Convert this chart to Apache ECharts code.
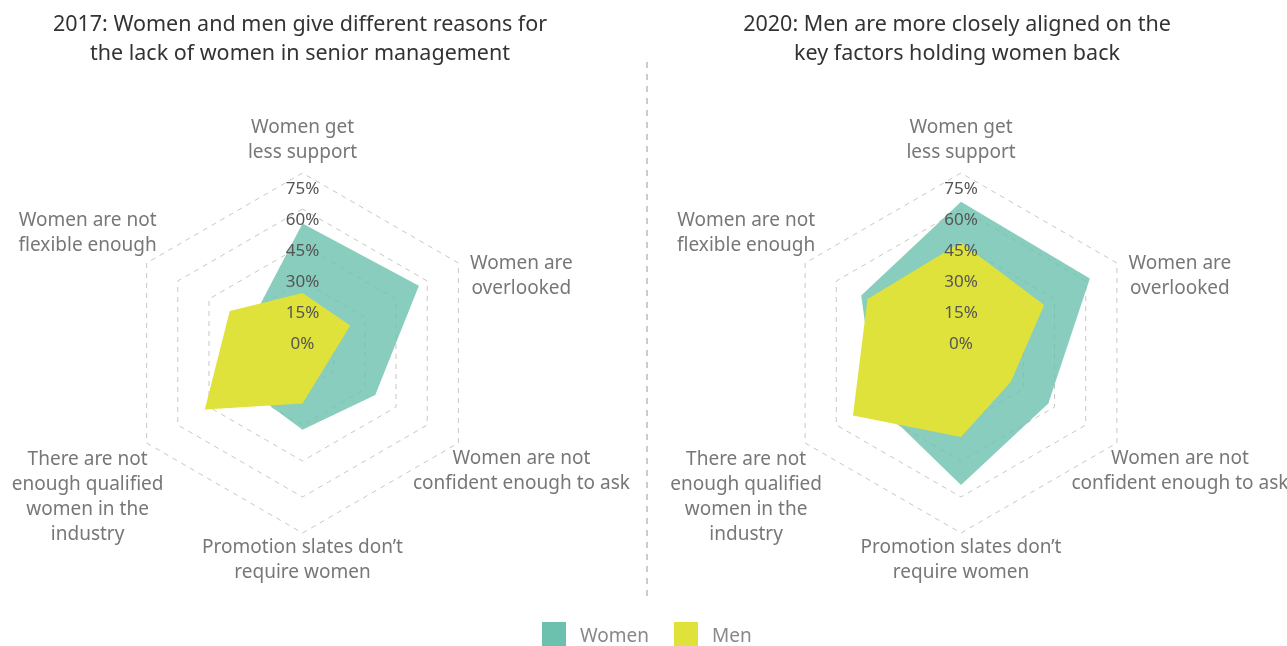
<!DOCTYPE html>
<html><head><meta charset="utf-8">
<script src="https://cdn.jsdelivr.net/npm/echarts@6/dist/echarts.min.js"></script>
<style>html,body{margin:0;padding:0;background:#fff}#c{width:1287px;height:646px}</style>
</head><body><div id="c"></div>
<script>
// ---- data ----
const categories = ['Women get\nless support', 'Women are not\nflexible enough', 'There are not\nenough qualified\nwomen in the\nindustry', 'Promotion slates don’t\nrequire women', 'Women are not\nconfident enough to ask', 'Women are\noverlooked'];
const titles = ['2017: Women and men give different reasons for\nthe lack of women in senior management', '2020: Men are more closely aligned on the\nkey factors holding women back'];
const seriesNames = ['Women', 'Men'];
const women2017 = [54, 25, 28, 32, 35, 56];
const men2017 = [25, 35, 47, 21, 11, 23];
const women2020 = [63, 48, 41, 55, 42, 62];
const men2020 = [46, 45, 52, 35, 24, 40];
const tickLabels = ['0%', '15%', '30%', '45%', '60%', '75%'];
const axisMax = 75;
const tickStep = 15;

// ---- style ----
const FONT = 'Noto Sans';
const TEAL = '#6cc1ae';
const YEL = '#dfe23b';
// offset (dx, dy) of each category label's centre from its axis end
const nameOffsets = [[0, -33], [-59, -29.5], [-59, 54], [0, 27.5], [63, 28], [63, 13.5]];

function nameLayout(i) {
  const th = (90 + i * 60) * Math.PI / 180;
  const c = Math.cos(th), s = Math.sin(th);
  const dx = nameOffsets[i][0], dy = nameOffsets[i][1];
  const g = dy / (-s);
  const r = dx - g * (Math.abs(c) < 1e-9 ? 0 : c);
  return { gap: g, padding: [0, Math.max(0, -2 * r), 0, Math.max(0, 2 * r)] };
}

function mainRadar(cx) {
  return {
    center: [cx, 353], radius: 180, startAngle: 90, shape: 'polygon', splitNumber: 5,
    indicator: categories.map((n, i) => {
      const L = nameLayout(i);
      return {
        name: n, min: 0, max: axisMax, nameGap: L.gap,
        nameTextStyle: { align: 'center', verticalAlign: 'middle', padding: L.padding }
      };
    }),
    axisName: { color: '#777', fontSize: 19, lineHeight: 25, fontFamily: FONT },
    nameGap: 0,
    axisLine: { show: false }, axisTick: { show: false }, axisLabel: { show: false },
    splitLine: { lineStyle: { color: '#c8c8c8', type: [5, 5], width: 1 } },
    splitArea: { show: false }
  };
}
function labelRadar(cx) {
  return {
    z: 10,
    center: [cx, 344], radius: 155, startAngle: 90, shape: 'polygon', splitNumber: 5,
    indicator: categories.map((n, i) => ({ name: '', min: 0, max: axisMax, axisLabel: { show: i === 0 } })),
    axisName: { show: false },
    axisLine: { show: false }, axisTick: { show: false },
    axisLabel: { show: false, color: '#555', fontSize: 17, fontFamily: FONT, margin: 0, align: 'center', verticalAlign: 'middle',
      formatter: v => tickLabels[Math.round(v / tickStep)] },
    splitLine: { show: false }, splitArea: { show: false }
  };
}
function radarSeries(idx, w, m) {
  return {
    type: 'radar', radarIndex: idx, symbol: 'none', silent: true, z: 2,
    lineStyle: { width: 0 },
    data: [
      { name: seriesNames[0], value: w, itemStyle: { color: TEAL }, lineStyle: { width: 0 }, areaStyle: { color: TEAL, opacity: 0.8 } },
      { name: seriesNames[1], value: m, itemStyle: { color: YEL }, lineStyle: { width: 0 }, areaStyle: { color: YEL, opacity: 1 } }
    ]
  };
}

const titleStyle = { fontSize: 21.5, fontWeight: 'normal', color: '#333', lineHeight: 29, fontFamily: FONT };
const chart = echarts.init(document.getElementById('c'), null, { renderer: 'canvas' });
chart.setOption({
  animation: false,
  backgroundColor: '#fff',
  title: [
    { text: titles[0], left: 300, top: 10, textAlign: 'center', padding: 0, textStyle: titleStyle },
    { text: titles[1], left: 957, top: 10, textAlign: 'center', padding: 0, textStyle: titleStyle }
  ],
  legend: {
    data: seriesNames, top: 622, left: 542, padding: 0, itemWidth: 24, itemHeight: 24, itemGap: 25, icon: 'rect',
    formatter: '{t|{name}}',
    textStyle: { color: '#888', fontSize: 19, fontFamily: FONT, padding: [0, 0, 0, 9],
      rich: { t: { color: '#888', fontSize: 19, fontFamily: FONT, padding: [5, 0, 0, 0] } } }
  },
  radar: [mainRadar(302.5), mainRadar(961), labelRadar(302.5), labelRadar(961)],
  series: [radarSeries(0, women2017, men2017), radarSeries(1, women2020, men2020)],
  graphic: [
    { type: 'line', shape: { x1: 647, y1: 62, x2: 647, y2: 600 }, style: { stroke: '#999', lineWidth: 1, lineDash: [6, 6] }, silent: true }
  ]
});
</script>
</body></html>
